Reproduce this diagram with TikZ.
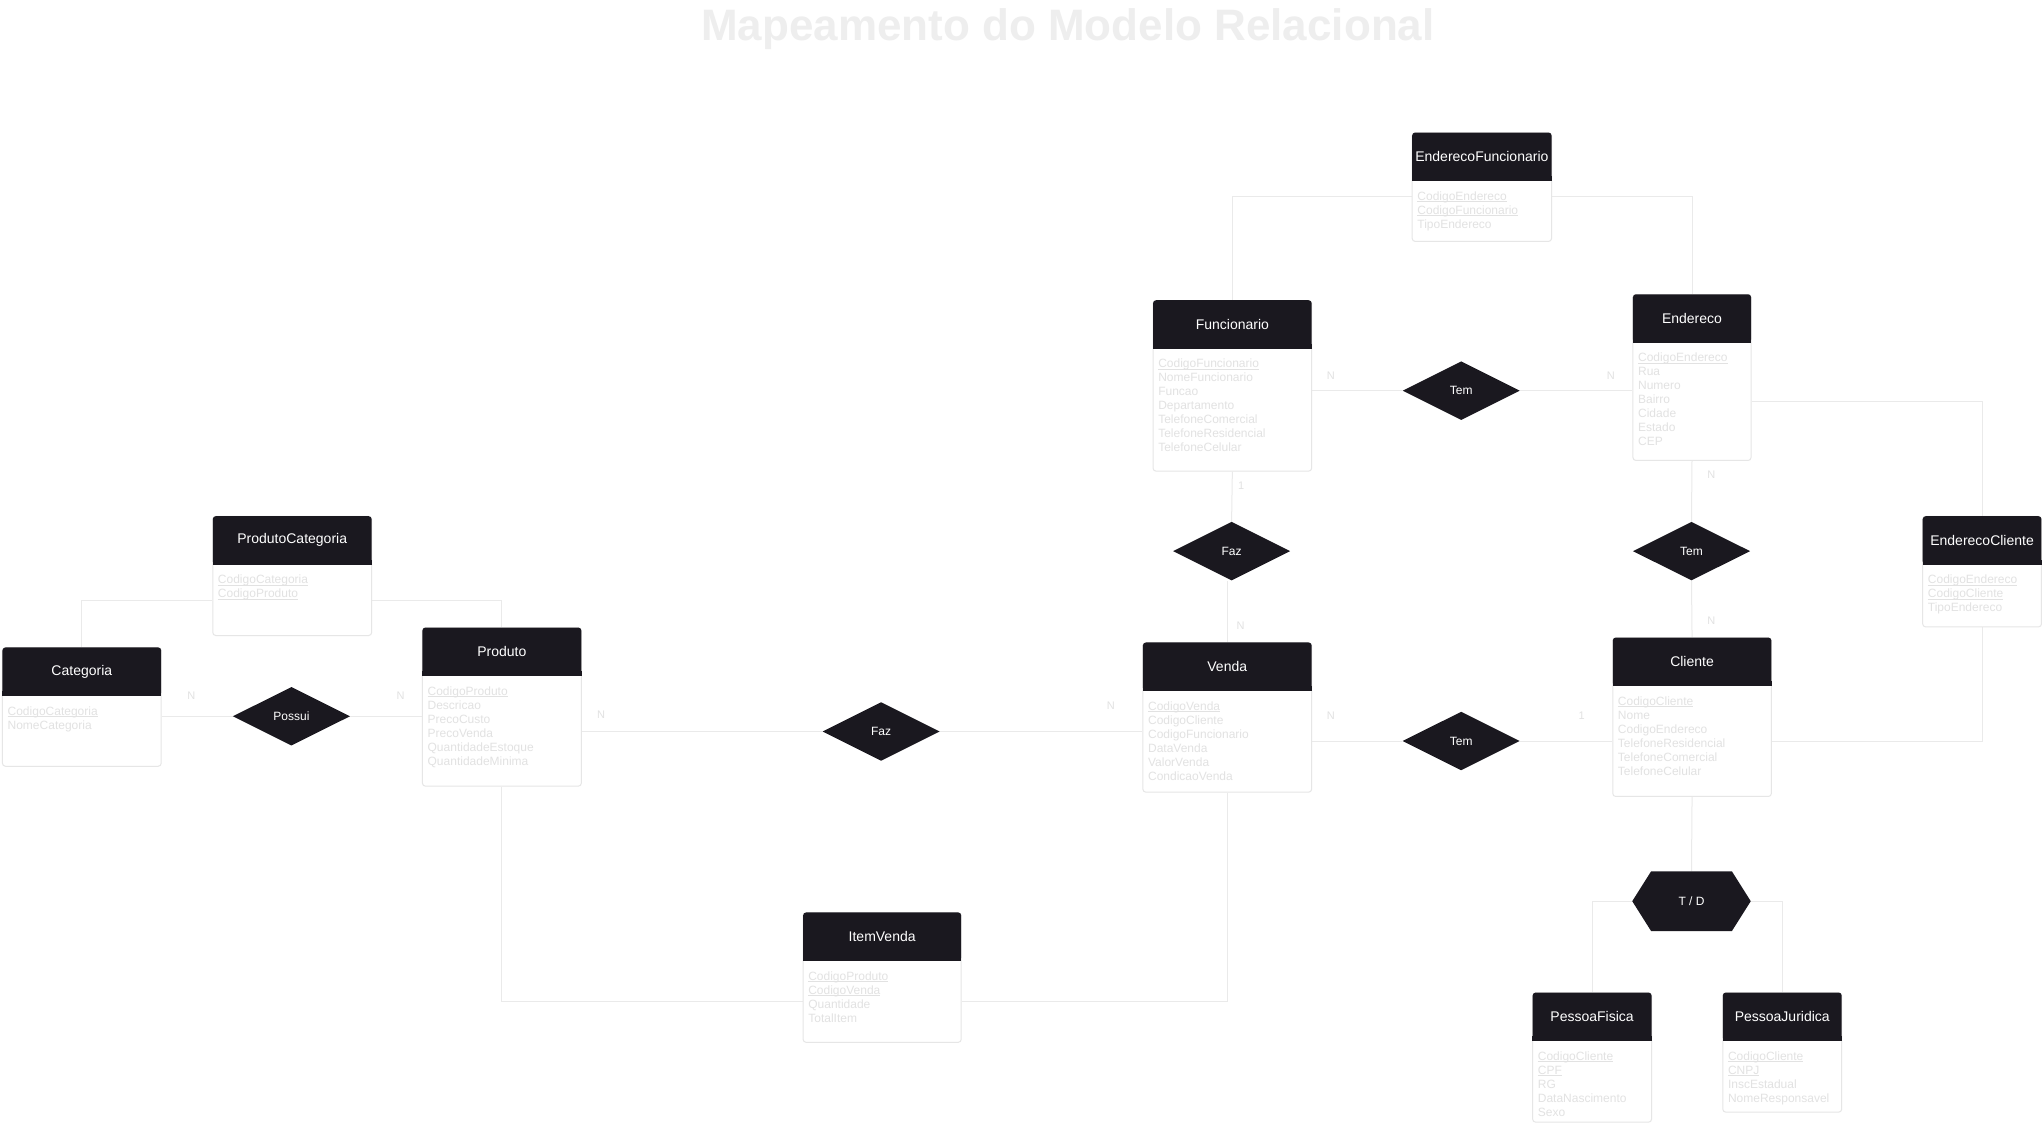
\documentclass[tikz,border=0pt]{standalone}
\usepackage{fontspec}
\setmainfont{Liberation Sans}
\usetikzlibrary{shapes.geometric,calc}
\pgfdeclarelayer{background}
\pgfsetlayers{background,main}
\definecolor{hdr}{HTML}{1A181F}
\definecolor{faint}{HTML}{E2E2E2}
\definecolor{wire}{HTML}{EAEAEA}
\definecolor{ttl}{HTML}{EEEEEE}
\definecolor{rim}{HTML}{E6E6E6}
\def\U{1.3023pt}
\newcommand\keyul[1]{\setbox0\hbox{#1}\rlap{\rule[-1.6pt]{\wd0}{0.7pt}}\box0}
\tikzset{
 entbox/.style={draw=rim, fill=white, rounded corners=3pt, line width=1pt, inner sep=0pt},
 enthead/.style={fill=hdr, text=white, inner sep=0pt, minimum height=37*\U, font=\fontsize{14}{16}\selectfont, rounded corners=3pt},
 entattr/.style={text=faint, align=left, inner sep=0pt, font=\fontsize{12}{14}\selectfont},
 rel/.style={diamond, fill=hdr, text=white, inner sep=0pt, minimum width=90*\U, minimum height=45*\U, font=\fontsize{12}{14}\selectfont},
 wireline/.style={draw=wire, line width=1pt},
 card/.style={text=faint, inner sep=0pt, font=\fontsize{11}{13}\selectfont},
}
\newcommand\entity[7]{%
 \node[entbox, anchor=north west, minimum width={(#4-#2)*\U}, minimum height={(#5-#3)*\U}] (#1) at (#2,#3) {};
 \node[enthead, anchor=north, minimum width={(#4-#2)*\U}] (#1-h) at (#1.north) {#6};
 \fill[hdr] (#1-h.south west) rectangle ([yshift=5pt]#1-h.south east);
 \node[entattr, anchor=north west] (#1-a) at ([xshift=4*\U, yshift=-8*\U]#1-h.south west) {#7};
}
\begin{document}
\begin{tikzpicture}[x=1.3023pt, y=-1.3023pt]
\useasboundingbox (0,0) rectangle (1568,862);
\begin{pgfonlayer}{background}
\fill[white] (0,0) rectangle (1568,862);
\end{pgfonlayer}

\node[text=ttl, font=\fontsize{44}{50}\selectfont\bfseries, anchor=base, inner sep=0pt] (title) at (820,31) {Mapeamento do Modelo Relacional};

% entities
\entity{ef}{1084}{101.6}{1191}{185}{EnderecoFuncionario}{\keyul{CodigoEndereco}\\\keyul{CodigoFuncionario}\\TipoEndereco}
\entity{func}{885}{230.4}{1006.8}{361.4}{Funcionario}{\keyul{CodigoFuncionario}\\NomeFuncionario\\Funcao\\Departamento\\TelefoneComercial\\TelefoneResidencial\\TelefoneCelular}
\entity{end}{1253.5}{225.8}{1344.2}{353.2}{Endereco}{\keyul{CodigoEndereco}\\Rua\\Numero\\Bairro\\Cidade\\Estado\\CEP}
\entity{pc}{163}{396.2}{285}{487.6}{ProdutoCategoria}{\keyul{CodigoCategoria}\\\keyul{CodigoProduto}}
\entity{cat}{1.5}{497}{123.4}{588}{Categoria}{\keyul{CodigoCategoria}\\NomeCategoria}
\entity{prod}{324}{481.7}{446}{603.3}{Produto}{\keyul{CodigoProduto}\\Descricao\\PrecoCusto\\PrecoVenda\\QuantidadeEstoque\\QuantidadeMinima}
\entity{venda}{877.2}{493.2}{1006.8}{607.9}{Venda}{\keyul{CodigoVenda}\\CodigoCliente\\CodigoFuncionario\\DataVenda\\ValorVenda\\CondicaoVenda}
\entity{cli}{1238}{489.4}{1359.8}{611.2}{Cliente}{\keyul{CodigoCliente}\\Nome\\CodigoEndereco\\TelefoneResidencial\\TelefoneComercial\\TelefoneCelular}
\entity{ec}{1476}{396.2}{1567.2}{481}{EnderecoCliente}{\keyul{CodigoEndereco}\\\keyul{CodigoCliente}\\TipoEndereco}
\entity{iv}{616.3}{700.5}{737.7}{800}{ItemVenda}{\keyul{CodigoProduto}\\\keyul{CodigoVenda}\\Quantidade\\TotalItem}
\entity{pf}{1176.5}{762}{1267.8}{861.3}{PessoaFisica}{\keyul{CodigoCliente}\\\keyul{CPF}\\RG\\DataNascimento\\Sexo}
\entity{pj}{1322.5}{762}{1413.8}{853.6}{PessoaJuridica}{\keyul{CodigoCliente}\\\keyul{CNPJ}\\InscEstadual\\NomeResponsavel}

% relationships
\node[rel] (tem1) at (1122,300) {Tem};
\node[rel] (faz1) at (945.7,423.2) {Faz};
\node[rel] (tem2) at (1298.85,423.2) {Tem};
\node[rel] (possui) at (223.8,550) {Possui};
\node[rel] (faz2) at (676.6,561.7) {Faz};
\node[rel] (tem3) at (1122,569) {Tem};
\node[inner sep=0pt, minimum width=90.7*\U, minimum height=45.6*\U, text=white, font=\fontsize{12}{14}\selectfont] (td) at (1298.85,692) {T / D};

% connectors
\begin{pgfonlayer}{background}
\draw[wireline] ([yshift=-7.5*\U]ef.west) -| (func.north);
\draw[wireline] ([yshift=-7.5*\U]ef.east) -| (end.north);
\draw[wireline] (tem1.west) -- (tem1.west -| func.east);
\draw[wireline] (tem1.east) -- (tem1.east -| end.west);
\draw[wireline] ([yshift=-18.5*\U]end.east) -| (ec.north);
\draw[wireline] (ec.south) |- (tem3.east -| cli.east);
\draw[wireline] (func.south) -- (faz1.north);
\draw[wireline] (venda.north) -- (venda.north |- faz1.south);
\draw[wireline] (end.south) -- (tem2.north);
\draw[wireline] (tem2.south) -- (cli.north);
\draw[wireline] (possui.west) -- (possui.west -| cat.east);
\draw[wireline] (possui.east) -- (possui.east -| prod.west);
\draw[wireline] ([yshift=-18.8*\U]pc.west) -| (cat.north);
\draw[wireline] ([yshift=-18.8*\U]pc.east) -| (prod.north);
\draw[wireline] (faz2.west) -- (faz2.west -| prod.east);
\draw[wireline] (faz2.east) -- (faz2.east -| venda.west);
\draw[wireline] ([yshift=-18.35*\U]iv.west) -| (prod.south);
\draw[wireline] ([yshift=-18.35*\U]iv.east) -| (venda.south);
\draw[wireline] (tem3.west) -- (tem3.west -| venda.east);
\draw[wireline] (tem3.east) -- (tem3.east -| cli.west);
\draw[wireline] (cli.south) -- (td.north);
\draw[wireline] (td.west) -| (pf.north);
\draw[wireline] (td.east) -| (pj.north);
\fill[hdr] (td.west) -- ([xshift=14.5*\U]td.north west) -- ([xshift=-14.5*\U]td.north east) -- (td.east) -- ([xshift=-14.5*\U]td.south east) -- ([xshift=14.5*\U]td.south west) -- cycle;
\end{pgfonlayer}

% cardinalities
\node[card] (c1) at (1022,288.5) {N};
\node[card] (c2) at (1237,288.5) {N};
\node[card] (c3) at (953,372.9) {1};
\node[card] (c4) at (952.7,480.2) {N};
\node[card] (c5) at (1314,364.7) {N};
\node[card] (c6) at (1314,476.6) {N};
\node[card] (c7) at (146.9,534.2) {N};
\node[card] (c8) at (307.6,534.2) {N};
\node[card] (c9) at (461.5,549) {N};
\node[card] (c10) at (852.9,541.9) {N};
\node[card] (c11) at (1022,549.5) {N};
\node[card] (c12) at (1214.6,549.5) {1};
\end{tikzpicture}
\end{document}
